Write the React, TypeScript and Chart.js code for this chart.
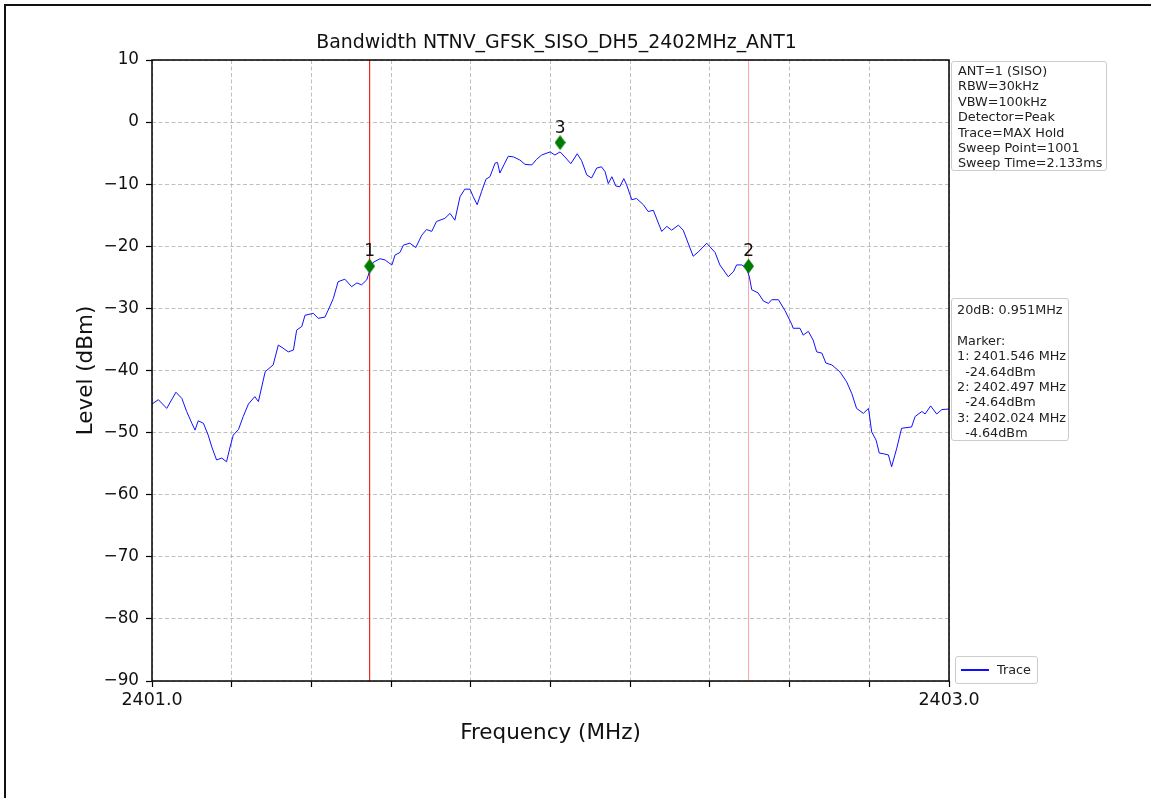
import React, { useEffect, useRef } from 'react';
import { Chart, registerables } from 'chart.js';

Chart.register(...registerables);

const FONT = '"DejaVu Sans", "Noto Sans", sans-serif';

const titleText = 'Bandwidth NTNV_GFSK_SISO_DH5_2402MHz_ANT1';
const xTitle = 'Frequency (MHz)';
const yTitle = 'Level (dBm)';

const xTickLabels = ['2401.0', '', '', '', '', '', '', '', '', '', '2403.0'];
const yTickLabels = ['\u221290', '\u221280', '\u221270', '\u221260', '\u221250', '\u221240', '\u221230', '\u221220', '\u221210', '0', '10'];

const freqs = [
  2401.000, 2401.016, 2401.037, 2401.060, 2401.075, 2401.087, 2401.100, 2401.108, 2401.116, 2401.129,
  2401.141, 2401.150, 2401.162, 2401.175, 2401.187, 2401.196, 2401.204, 2401.217, 2401.229, 2401.242,
  2401.258, 2401.267, 2401.284, 2401.304, 2401.317, 2401.329, 2401.342, 2401.355, 2401.363, 2401.376,
  2401.384, 2401.405, 2401.417, 2401.434, 2401.442, 2401.455, 2401.467, 2401.484, 2401.501, 2401.514,
  2401.526, 2401.539, 2401.546, 2401.555, 2401.572, 2401.585, 2401.593, 2401.602, 2401.610, 2401.622,
  2401.631, 2401.647, 2401.662, 2401.677, 2401.689, 2401.702, 2401.714, 2401.735, 2401.748, 2401.760,
  2401.773, 2401.785, 2401.798, 2401.806, 2401.816, 2401.827, 2401.838, 2401.848, 2401.861, 2401.867,
  2401.873, 2401.883, 2401.894, 2401.907, 2401.923, 2401.936, 2401.953, 2401.965, 2401.978, 2401.999,
  2402.011, 2402.024, 2402.036, 2402.051, 2402.067, 2402.078, 2402.091, 2402.103, 2402.116, 2402.128,
  2402.137, 2402.145, 2402.154, 2402.164, 2402.174, 2402.184, 2402.191, 2402.204, 2402.216, 2402.233,
  2402.245, 2402.258, 2402.279, 2402.292, 2402.304, 2402.321, 2402.333, 2402.358, 2402.371, 2402.392,
  2402.413, 2402.425, 2402.446, 2402.459, 2402.467, 2402.480, 2402.492, 2402.499, 2402.505, 2402.521,
  2402.534, 2402.547, 2402.555, 2402.572, 2402.588, 2402.605, 2402.609, 2402.626, 2402.634, 2402.647,
  2402.659, 2402.668, 2402.681, 2402.691, 2402.706, 2402.726, 2402.743, 2402.756, 2402.768, 2402.785,
  2402.798, 2402.806, 2402.817, 2402.825, 2402.835, 2402.848, 2402.856, 2402.869, 2402.881, 2402.906,
  2402.915, 2402.932, 2402.940, 2402.954, 2402.969, 2402.982, 2403.000,
];

const levels = [
  -45.4, -44.7, -46.1, -43.5, -44.5, -46.6, -48.5, -49.6, -48.1, -48.5,
  -50.4, -52.3, -54.4, -54.1, -54.7, -52.3, -50.4, -49.5, -47.4, -45.4,
  -44.2, -45.0, -40.2, -39.1, -35.9, -36.4, -37.0, -36.7, -33.5, -32.9,
  -31.1, -30.8, -31.6, -31.4, -30.3, -28.4, -25.7, -25.3, -26.5, -25.9,
  -26.2, -25.4, -24.0, -22.6, -22.0, -22.2, -22.6, -23.0, -21.4, -21.0,
  -19.8, -19.5, -20.2, -18.2, -17.3, -17.6, -16.0, -15.5, -14.7, -15.8,
  -12.0, -10.8, -10.8, -12.0, -13.3, -11.2, -9.2, -8.8, -6.6, -6.5,
  -8.2, -6.9, -5.5, -5.6, -6.1, -6.8, -6.9, -6.0, -5.3, -4.8,
  -5.3, -4.8, -5.6, -6.7, -5.1, -6.2, -8.5, -9.0, -7.4, -7.2,
  -8.0, -9.9, -8.8, -10.3, -10.4, -9.1, -10.1, -12.5, -12.3, -13.3,
  -14.4, -14.2, -17.6, -16.8, -17.4, -16.6, -17.4, -21.6, -20.9, -19.5,
  -21.0, -23.0, -24.9, -24.1, -23.0, -23.0, -23.5, -24.9, -27.0, -27.5,
  -28.8, -29.2, -28.6, -28.6, -30.3, -32.5, -33.2, -33.2, -34.3, -33.7,
  -35.1, -37.0, -37.2, -38.8, -39.1, -40.2, -41.8, -43.7, -46.1, -46.9,
  -46.1, -49.9, -51.2, -53.3, -53.4, -53.6, -55.5, -52.5, -49.3, -49.1,
  -47.4, -46.6, -47.0, -45.7, -47.0, -46.3, -46.2,
];

const markerFreqs = [2401.546, 2402.497, 2402.024];
const markerLevels = [-23.2, -23.2, -3.3];
const markerLabels = ['1', '2', '3'];

const edgeFreqs = [2401.546, 2402.497];
const edgeColors = ['#ee2a22', 'rgba(255, 80, 80, 0.22)'];

const xMin = 2401;
const xMax = 2403;
const yMin = -90;
const yMax = 10;

const infoLines = [
  'ANT=1 (SISO)',
  'RBW=30kHz',
  'VBW=100kHz',
  'Detector=Peak',
  'Trace=MAX Hold',
  'Sweep Point=1001',
  'Sweep Time=2.133ms',
];

const resultLines = [
  '20dB: 0.951MHz',
  '',
  'Marker:',
  '1: 2401.546 MHz',
  '  -24.64dBm',
  '2: 2402.497 MHz',
  '  -24.64dBm',
  '3: 2402.024 MHz',
  '  -4.64dBm',
];

export default function App() {
  const ref = useRef<HTMLCanvasElement>(null);

  useEffect(() => {
    const canvas = ref.current;
    if (!canvas) return;

    const diamond = document.createElement('canvas');
    diamond.width = 11;
    diamond.height = 15;
    const dctx = diamond.getContext('2d')!;
    dctx.fillStyle = '#007a00';
    dctx.beginPath();
    dctx.moveTo(5.5, 0);
    dctx.lineTo(11, 7.5);
    dctx.lineTo(5.5, 15);
    dctx.lineTo(0, 7.5);
    dctx.closePath();
    dctx.fill();

    const tracePoints = freqs.map((f, i) => ({ x: f, y: levels[i] }));
    const markerPoints = markerFreqs.map((f, i) => ({ x: f, y: markerLevels[i] }));

    const edgeSets = edgeFreqs.map((f, i) => ({
      type: 'line' as const,
      label: 'edge' + i,
      data: [{ x: f, y: yMax }, { x: f, y: yMin }],
      borderColor: edgeColors[i],
      borderWidth: 1,
      pointRadius: 0,
      order: 3,
    }));

    const decor = {
      id: 'decor',
      afterDatasetsDraw(chart: any) {
        const { ctx, chartArea: a } = chart;
        ctx.save();
        ctx.strokeStyle = '#000';
        ctx.lineWidth = 1.5;
        ctx.strokeRect(a.left, a.top, a.right - a.left, a.bottom - a.top);

        const meta = chart.getDatasetMeta(0);
        ctx.fillStyle = '#111';
        ctx.font = `17px ${FONT}`;
        ctx.textAlign = 'center';
        ctx.textBaseline = 'alphabetic';
        meta.data.forEach((pt: any, i: number) => {
          ctx.fillText(markerLabels[i], pt.x, pt.y - 10);
        });

        ctx.font = `18.9px ${FONT}`;
        ctx.textBaseline = 'middle';
        ctx.fillText(titleText, (a.left + a.right) / 2 + 6, 43);
        ctx.restore();
      },
    };

    const gridCommon = {
      color: '#b0b0b0',
      lineWidth: 0.8,
      tickColor: '#000',
      tickWidth: 1.2,
      tickLength: 6,
      tickBorderDash: [],
    };

    const chart = new Chart(canvas, {
      type: 'line',
      data: {
        datasets: [
          {
            type: 'line',
            label: 'markers',
            data: markerPoints,
            showLine: false,
            pointStyle: diamond as any,
            pointRadius: 7,
            order: 0,
          },
          {
            type: 'line',
            label: 'Trace',
            data: tracePoints,
            borderColor: '#1010ff',
            borderWidth: 1,
            pointRadius: 0,
            tension: 0,
            order: 1,
          },
          ...edgeSets,
        ] as any,
      },
      options: {
        animation: false,
        responsive: false,
        devicePixelRatio: 1,
        layout: { padding: { left: 74, right: 202, top: 60, bottom: 52 } },
        plugins: {
          legend: { display: false },
          tooltip: { enabled: false },
          title: { display: false },
        },
        scales: {
          x: {
            type: 'linear',
            min: xMin,
            max: xMax,
            afterFit: (s: any) => { s.height = 65; },
            ticks: {
              stepSize: 0.2,
              autoSkip: false,
              maxRotation: 0,
              padding: 3,
              color: '#111',
              font: { family: FONT, size: 17.5 },
              callback: (_v: any, i: number) => xTickLabels[i] ?? '',
            },
            grid: gridCommon,
            border: { display: false, dash: [4, 2.5] },
            title: {
              display: true,
              text: xTitle,
              color: '#111',
              padding: 0,
              font: { family: FONT, size: 21.5 },
            },
          },
          y: {
            type: 'linear',
            min: yMin,
            max: yMax,
            afterFit: (s: any) => { s.width = 78; },
            ticks: {
              stepSize: 10,
              padding: 7,
              color: '#111',
              font: { family: FONT, size: 16.8 },
              callback: (_v: any, i: number) => yTickLabels[i] ?? '',
            },
            grid: gridCommon,
            border: { display: false, dash: [4, 2.5] },
            title: {
              display: true,
              text: yTitle,
              color: '#111',
              padding: 0,
              font: { family: FONT, size: 21.5 },
            },
          },
        },
      } as any,
      plugins: [decor],
    });

    return () => chart.destroy();
  }, []);

  const boxStyle: React.CSSProperties = {
    position: 'absolute',
    background: 'rgba(255,255,255,0.85)',
    border: '1px solid #cccccc',
    borderRadius: 3,
    fontFamily: FONT,
    fontSize: 12.8,
    lineHeight: '15.4px',
    color: '#222',
    whiteSpace: 'pre',
    overflow: 'hidden',
    boxSizing: 'border-box',
  };

  return (
    <div style={{ position: 'absolute', left: 0, top: 0, width: 1151, height: 798, background: '#fff', overflow: 'hidden' }}>
      <div style={{ position: 'absolute', left: 4, top: 4, width: 1300, height: 1000, borderLeft: '2px solid #111', borderTop: '2px solid #111' }} />
      <canvas ref={ref} width={1151} height={798} style={{ position: 'absolute', left: 0, top: 0, width: 1151, height: 798 }} />
      <div style={{ ...boxStyle, left: 951, top: 61, width: 156, height: 110, padding: '1px 0 0 6px' }}>
        {infoLines.map((t, i) => <div key={i}>{t || '\u00a0'}</div>)}
      </div>
      <div style={{ ...boxStyle, left: 951, top: 298, width: 118, height: 143, padding: '3px 0 0 5px' }}>
        {resultLines.map((t, i) => <div key={i}>{t || '\u00a0'}</div>)}
      </div>
      <div style={{ ...boxStyle, left: 955, top: 656, width: 83, height: 28 }}>
        <div style={{ position: 'absolute', left: 5, top: 12, width: 28, height: 2, background: '#1010ff' }} />
        <div style={{ position: 'absolute', left: 41, top: 5 }}>Trace</div>
      </div>
    </div>
  );
}
